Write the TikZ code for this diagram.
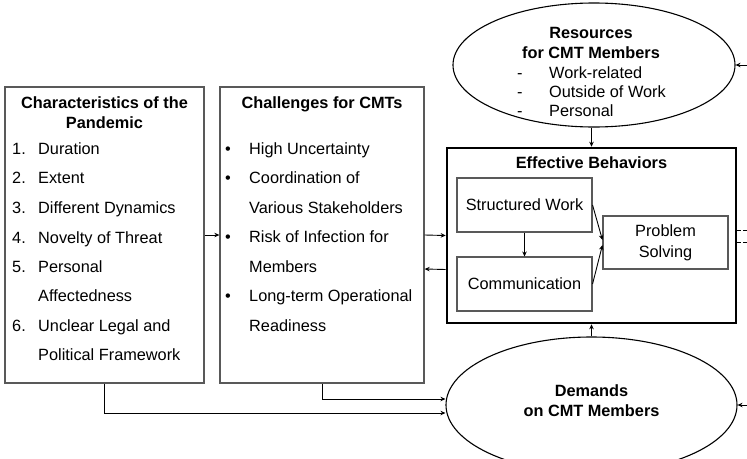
\documentclass[tikz,border=0pt]{standalone}
\usepackage{fontspec}
\setmainfont{Liberation Sans}
\usetikzlibrary{shapes.geometric,arrows.meta}
\begin{document}
\begin{tikzpicture}[x=1pt,y=-1pt,
  txt/.style={font=\fontsize{16.3}{20}\selectfont, inner sep=0pt, anchor=base west},
  ttl/.style={font=\fontsize{16.3}{20}\selectfont\bfseries, inner sep=0pt, anchor=base},
  graybox/.style={draw=black!65, line width=1.3pt, rectangle, inner sep=0pt},
  innerbox/.style={draw=black!65, line width=1.1pt, rectangle, inner sep=0pt, font=\fontsize{16.3}{20}\selectfont, align=center},
  ell/.style={draw=black, line width=1.1pt, ellipse, inner sep=0pt},
  arr/.style={draw=black, line width=0.9pt, -{Stealth[length=5pt,width=4.5pt]}},
  stub/.style={draw=black, line width=0.9pt, dash pattern=on 4pt off 2pt}]
\clip (0,0) rectangle (747,458);
\fill[white] (0,0) rectangle (747,458);

% main boxes
\node[graybox, minimum width=199pt, minimum height=296pt] (box1) at (104.5,235) {};
\node[graybox, minimum width=204pt, minimum height=296pt] (box2) at (322,235) {};
\node[draw=black, line width=2.6pt, rectangle, inner sep=0pt, minimum width=289pt, minimum height=175pt] (eff) at (591.5,235.5) {};
\node[innerbox, minimum width=135pt, minimum height=54pt] (sw) at (524.5,205) {Structured Work};
\node[innerbox, minimum width=135pt, minimum height=54pt] (com) at (524.5,284) {Communication};
\node[innerbox, minimum width=125pt, minimum height=53pt] (ps) at (665.5,242.5) {Problem\\[1pt]Solving};
\node[ell, minimum width=282pt, minimum height=124pt] (res) at (594,65) {};
\node[ell, minimum width=291pt, minimum height=136pt] (dem) at (591.5,405) {};

% box 1 text
\node[ttl] (t1a) at (104.5,108) {Characteristics of the};
\node[ttl] (t1b) at (104.5,128) {Pandemic};
\node[txt] (n1) at (12,154) {1.}; \node[txt] (i1) at (38,154) {Duration};
\node[txt] (n2) at (12,183) {2.}; \node[txt] (i2) at (38,183) {Extent};
\node[txt] (n3) at (12,213) {3.}; \node[txt] (i3) at (38,213) {Different Dynamics};
\node[txt] (n4) at (12,243) {4.}; \node[txt] (i4) at (38,243) {Novelty of Threat};
\node[txt] (n5) at (12,272) {5.}; \node[txt] (i5) at (38,272) {Personal};
\node[txt] (i5b) at (38,301) {Affectedness};
\node[txt] (n6) at (12,331) {6.}; \node[txt] (i6) at (38,331) {Unclear Legal and};
\node[txt] (i6b) at (38,360) {Political Framework};

% box 2 text
\node[ttl] (t2) at (322,108) {Challenges for CMTs};
\node[txt] (b1) at (225,154) {•}; \node[txt] (c1) at (249,154) {High Uncertainty};
\node[txt] (b2) at (225,183) {•}; \node[txt] (c2) at (249,183) {Coordination of};
\node[txt] (c2b) at (249,213) {Various Stakeholders};
\node[txt] (b3) at (225,242) {•}; \node[txt] (c3) at (249,242) {Risk of Infection for};
\node[txt] (c3b) at (249,272) {Members};
\node[txt] (b4) at (225,301) {•}; \node[txt] (c4) at (249,301) {Long-term Operational};
\node[txt] (c4b) at (249,331) {Readiness};

% resources text
\node[ttl] (r1) at (591,38) {Resources};
\node[ttl] (r2) at (591,58) {for CMT Members};
\node[txt] (rd1) at (517,78) {-}; \node[txt] (ri1) at (549,78) {Work-related};
\node[txt] (rd2) at (517,97) {-}; \node[txt] (ri2) at (549,97) {Outside of Work};
\node[txt] (rd3) at (517,116) {-}; \node[txt] (ri3) at (549,116) {Personal};

% effective behaviors title
\node[ttl] (et) at (591.5,168) {Effective Behaviors};

% demands text
\node[ttl] (d1) at (591.5,396) {Demands};
\node[ttl] (d2) at (591.5,416) {on CMT Members};

% connectors
\draw[arr] (box1.east) -- (box2.west);
\draw[arr] (box2.east) -- (eff.west);
\draw[arr] ([yshift=-34pt]eff.west) -- ([yshift=-34pt]box2.east);
\draw[arr] (eff.north |- res.south) -- (eff.north);
\draw[arr] (eff.south |- dem.north) -- (eff.south);
\draw[arr] (sw.south) -- (com.north);
\draw[arr] (sw.east) -- ([yshift=2.5pt]ps.west);
\draw[arr] (com.east) -- ([yshift=-2.5pt]ps.west);
\draw[arr] (box2.south) |- ([yshift=6pt]dem.west);
\draw[arr] (box1.south) |- ([yshift=-8pt]dem.west);

% stubs from the right edge
\coordinate (eR) at (747,65);
\coordinate (eD) at (747,405);
\coordinate (eM1) at (747,230);
\coordinate (eM2) at (747,242);
\draw[arr] (eR) -- (res.east);
\draw[arr] (eD) -- (dem.east);
\draw[stub] (eff.east |- eM1) -- (eM1);
\draw[stub] (eff.east |- eM2) -- (eM2);
\end{tikzpicture}
\end{document}
